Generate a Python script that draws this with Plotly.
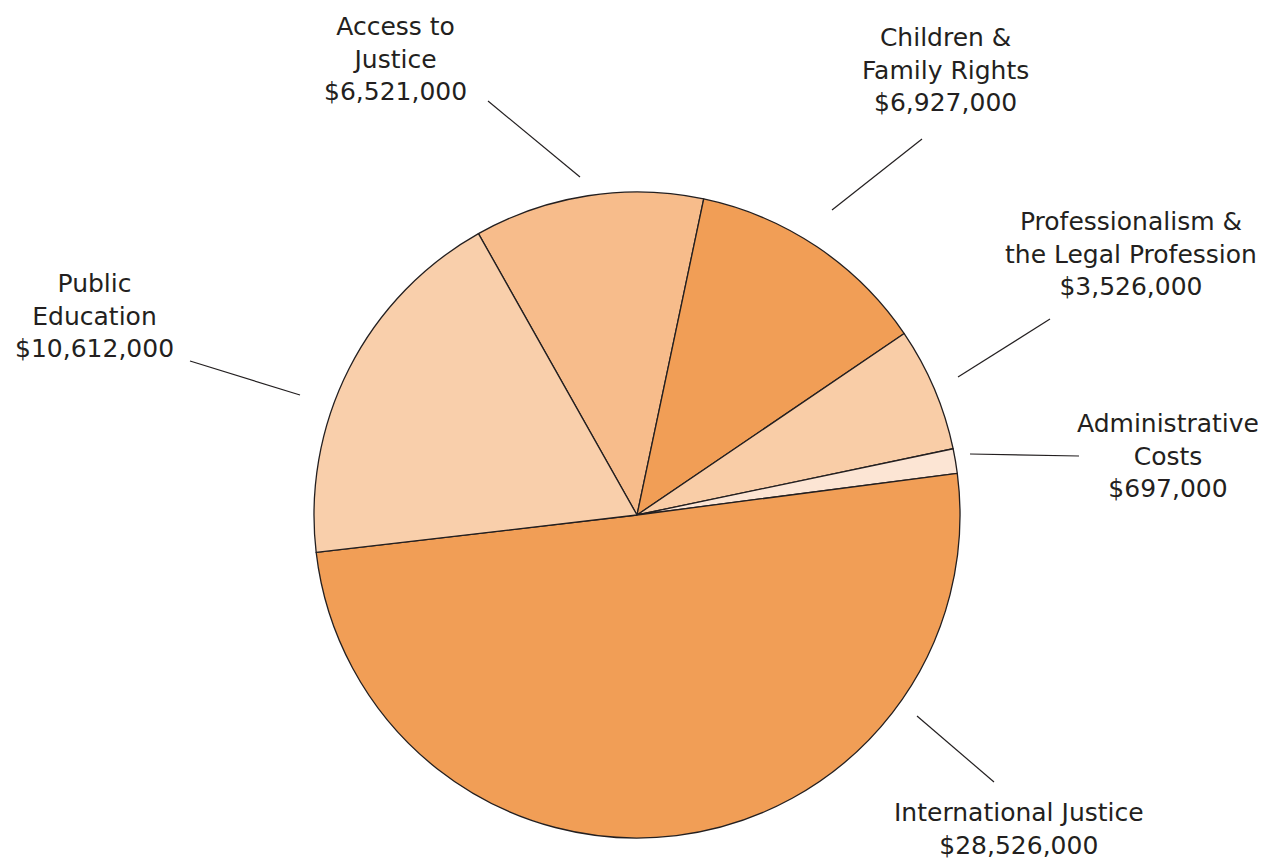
import plotly.graph_objects as go

# page body has an 8px margin; figure coordinates are shifted accordingly
OFF = 8
W, H = 1266 - OFF, 866 - OFF

categories = ["Access to Justice", "Children & Family Rights",
              "Professionalism & the Legal Profession", "Administrative Costs",
              "International Justice", "Public Education"]
values = [6521000, 6927000, 3526000, 697000, 28526000, 10612000]
label_texts = ["Access to<br>Justice", "Children &<br>Family Rights",
               "Professionalism &<br>the Legal Profession", "Administrative<br>Costs",
               "International Justice", "Public<br>Education"]
colors = ["#F7BC8B", "#F19E56", "#F9CDA7", "#FCE5D4", "#F19E56", "#F9CFAB"]

# layout-only positions (screen pixels) for labels and leader lines
label_pos = [(395, 59), (945, 70), (1131, 254), (1168, 456), (1019, 829), (95, 316)]
leaders = [((488, 101), (580, 177)), ((922, 139), (832, 210)),
           ((1050, 319), (958, 377)), ((970, 454), (1079, 456)),
           ((917, 716), (994, 782)), ((190, 361), (300, 395))]

cx, cy, r = 637 - OFF, 515 - OFF, 323


def px(x):
    return (x - OFF) / W


def py(y):
    return 1 - (y - OFF) / H


fig = go.Figure(go.Pie(
    labels=categories, values=values, sort=False, direction="clockwise",
    rotation=-29.4, textinfo="none", hoverinfo="label+value",
    marker=dict(colors=colors, line=dict(color="#231F20", width=1.3)),
    domain=dict(x=[(cx - r) / W, (cx + r) / W], y=[(H - cy - r) / H, (H - cy + r) / H]),
    showlegend=False,
))

annotations = []
for txt, v, (x, y) in zip(label_texts, values, label_pos):
    annotations.append(dict(
        x=px(x), y=py(y), xref="paper", yref="paper", showarrow=False,
        xanchor="center", yanchor="middle", align="center",
        text=f"{txt}<br>${v:,}",
        font=dict(family="DejaVu Sans", size=25, color="#231F20"),
    ))

shapes = []
for (x0, y0), (x1, y1) in leaders:
    shapes.append(dict(type="line", xref="paper", yref="paper",
                       x0=px(x0), y0=py(y0), x1=px(x1), y1=py(y1),
                       line=dict(color="#231F20", width=1.2)))

fig.update_layout(
    width=W, height=H, autosize=False,
    margin=dict(l=0, r=0, t=0, b=0),
    paper_bgcolor="white", plot_bgcolor="white",
    annotations=annotations, shapes=shapes,
)

fig.write_html("out.html")
